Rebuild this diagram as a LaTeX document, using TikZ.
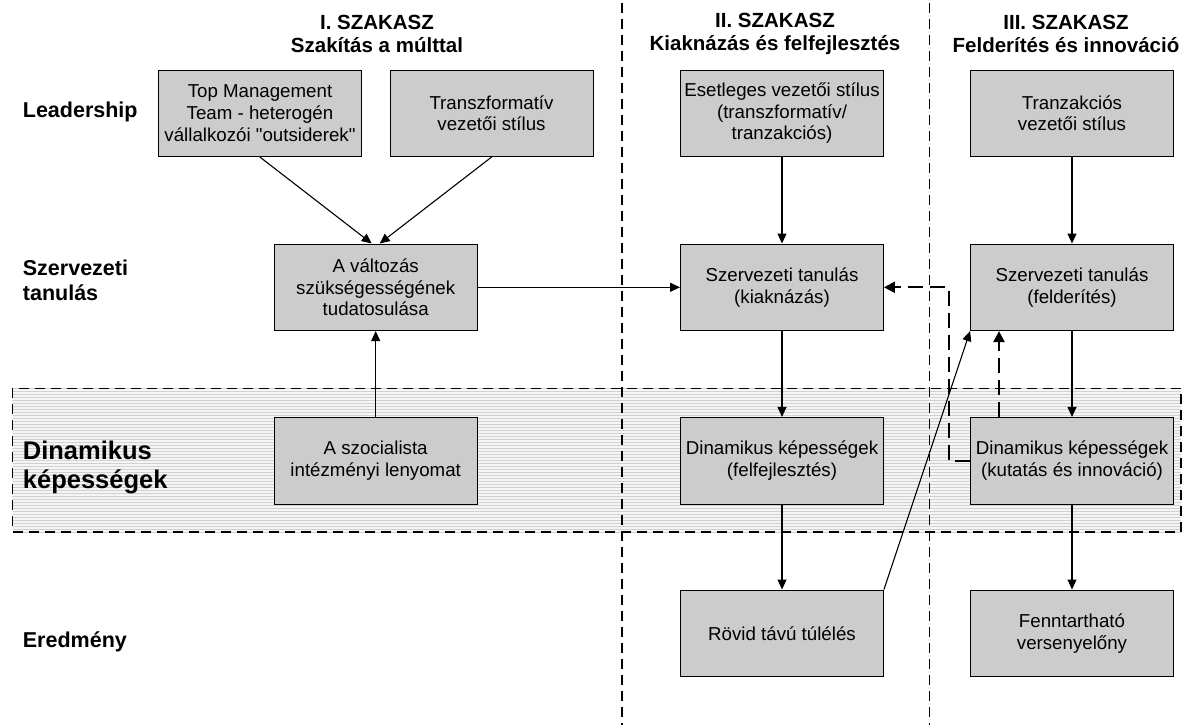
\documentclass[tikz,border=0pt]{standalone}
\usepackage{fontspec}
\setmainfont{Liberation Sans}[Ligatures=TeXOff]
\usetikzlibrary{arrows.meta,patterns}
\definecolor{boxgray}{RGB}{204,204,204}
\begin{document}
\begin{tikzpicture}[x=1pt,y=-1pt,
  box/.style={draw=black,line width=0.9pt,fill=boxgray,minimum width=203pt,
    minimum height=86.7pt,align=center,inner sep=0pt,
    font=\fontsize{18.7}{21.7}\selectfont},
  rowlabel/.style={anchor=west,align=left,inner sep=0pt,
    font=\bfseries\fontsize{21.5}{25}\selectfont},
  phase/.style={align=center,inner sep=0pt,
    font=\bfseries\fontsize{20.5}{23}\selectfont},
  conn/.style={line width=1.1pt,-{Triangle[length=10pt,width=9pt]}},
  feedback/.style={line width=2.3pt,dash pattern=on 15pt off 7pt,
    -{Triangle[length=11pt,width=11pt]}},
  divider/.style={line width=1.1pt,dash pattern=on 10pt off 6pt}
]
\useasboundingbox (0,0) rectangle (1185,725);

% shaded band of the dynamic capabilities row
\path[preaction={fill=black!4},pattern=horizontal lines,pattern color=black!18]
  (12.7,388.3) rectangle (1181,532);
\draw[divider] (12.7,388.3) rectangle (1181,532);

% phase dividers
\draw[divider] (622,3) -- (622,725);
\draw[divider] (929.5,3) -- (929.5,725);

% phase headings
\node[phase] (ph1) at (377,34) {I. SZAKASZ\\Szakítás a múlttal};
\node[phase] (ph2) at (775,34) {II. SZAKASZ\\Kiaknázás és felfejlesztés};
\node[phase] (ph3) at (1066,34) {III. SZAKASZ\\Felderítés és innováció};

% row labels
\node[rowlabel] (r1) at (22.7,112) {Leadership};
\node[rowlabel] (r2) at (22.7,280) {Szervezeti\\tanulás};
\node[rowlabel,font=\bfseries\fontsize{25.5}{29}\selectfont] (r3) at (22.7,467) {Dinamikus\\képességek};
\node[rowlabel] (r4) at (22.7,642) {Eredmény};

% phase I
\node[box] (tmt) at (260,113.3) {Top Management\\Team - heterogén\\vállalkozói "outsiderek"};
\node[box] (trf) at (491.5,113.3) {Transzformatív\\vezetői stílus};
\node[box] (valt) at (375.7,287.3) {A változás\\szükségességének\\tudatosulása};
\node[box] (szoc) at (375.7,460.7) {A szocialista\\intézményi lenyomat};

% phase II
\node[box] (eset) at (782,113.3) {Esetleges vezetői stílus\\(transzformatív/\\tranzakciós)};
\node[box] (kiak) at (782,287.3) {Szervezeti tanulás\\(kiaknázás)};
\node[box] (dyn2) at (782,460.7) {Dinamikus képességek\\(felfejlesztés)};
\node[box] (rovid) at (782,633.3) {Rövid távú túlélés};

% phase III
\node[box] (tranz) at (1072,113.3) {Tranzakciós\\vezetői stílus};
\node[box] (feld) at (1072,287.3) {Szervezeti tanulás\\(felderítés)};
\node[box] (dyn3) at (1072,460.7) {Dinamikus képességek\\(kutatás és innováció)};
\node[box] (fennt) at (1072,633.3) {Fenntartható\\versenyelőny};

% connectors
\draw[conn] (tmt.south) -- ([xshift=-4pt]valt.north);
\draw[conn] (trf.south) -- ([xshift=4pt]valt.north);
\draw[conn] (szoc) -- (valt);
\draw[conn] (valt) -- (kiak);
\draw[conn] (eset) -- (kiak);
\draw[conn] (kiak) -- (dyn2);
\draw[conn] (dyn2) -- (rovid);
\draw[conn] (rovid.north east) -- (feld.south west);
\draw[conn] (tranz) -- (feld);
\draw[conn] (feld) -- (dyn3);
\draw[conn] (dyn3) -- (fennt);

% feedback loops
\coordinate (fbx) at (949,0);
\draw[feedback] (dyn3.west) -| (fbx |- kiak.east) -- (kiak.east);
\draw[feedback] ([xshift=-73pt]dyn3.north) -- ([xshift=-73pt]feld.south);
\end{tikzpicture}
\end{document}
